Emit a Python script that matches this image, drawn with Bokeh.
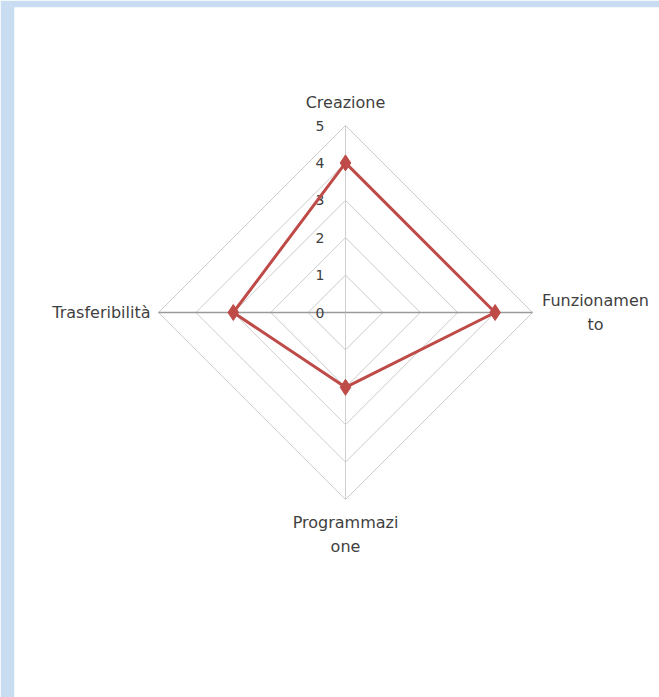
import numpy as np
from bokeh.plotting import figure
from bokeh.models import ColumnDataSource, Range1d
from bokeh.core.properties import value
from bokeh.embed import file_html
from bokeh.resources import INLINE

# ---- data ----
categories = ["Creazione", "Funzionamento", "Programmazione", "Trasferibilità"]
category_labels = ["Creazione", "Funzionamen\nto", "Programmazi\none", "Trasferibilità"]
series_values = [4, 4, 2, 3]
tick_values = [0, 1, 2, 3, 4, 5]
tick_labels = ["0", "1", "2", "3", "4", "5"]
max_value = 5

# angles: clockwise starting from top
n = len(categories)
angles = np.pi / 2 - 2 * np.pi * np.arange(n) / n

unit = 37.4  # px per value unit
W, H = 659, 697
bl, bt = 14, 7
cx, cy = 345, 312  # pixel center relative to figure origin

p = figure(width=W, height=H, output_backend="svg", toolbar_location=None,
           x_axis_location=None, y_axis_location=None,
           x_range=Range1d((bl - cx) / unit, (W - cx) / unit),
           y_range=Range1d((cy - H) / unit, (cy - bt) / unit),
           min_border_left=bl, min_border_right=0, min_border_top=bt, min_border_bottom=0)
p.xgrid.visible = False
p.ygrid.visible = False
p.outline_line_color = None
p.border_fill_color = "#c9ddf2"
p.background_fill_color = "white"

# grid polygons
for t in tick_values[1:]:
    xs = list(t * np.cos(angles)) + [t * np.cos(angles[0])]
    ys = list(t * np.sin(angles)) + [t * np.sin(angles[0])]
    p.line(xs, ys, line_color="#cccccc", line_width=1)

# spokes
for i, a in enumerate(angles):
    horiz = abs(np.sin(a)) < 1e-9
    p.line([0, max_value * np.cos(a)], [0, max_value * np.sin(a)],
           line_color="#9a9a9a" if horiz else "#cfcfcf", line_width=1.5 if horiz else 1)

# tick labels along the vertical (value) axis
p.text(x=[0] * len(tick_values), y=tick_values, text=tick_labels,
       text_align="right", text_baseline="middle", x_offset=-21,
       text_font=value("DejaVu Sans"), text_font_size="14px", text_color="#404040")

# series
vx = [v * np.cos(a) for v, a in zip(series_values, angles)]
vy = [v * np.sin(a) for v, a in zip(series_values, angles)]
p.line(vx + [vx[0]], vy + [vy[0]], line_color="#be4b48", line_width=3, line_join="round")
p.scatter(vx, vy, marker="diamond", size=16, fill_color="#be4b48", line_color="#be4b48")

# category labels
lx, ly, aligns, xo, yo = [], [], [], [], []
for a, lab in zip(angles, category_labels):
    c, s = np.cos(a), np.sin(a)
    lx.append(max_value * c)
    ly.append(max_value * s)
    if abs(s) < 1e-9:
        if "\n" in lab:
            aligns.append("center")
            xo.append(63 if c > 0 else -63)
        else:
            aligns.append("left" if c > 0 else "right")
            xo.append(8 if c > 0 else -8)
        yo.append(0)
    else:
        aligns.append("center")
        xo.append(0)
        yo.append(-23 if s > 0 else 35)
src = ColumnDataSource(dict(x=lx, y=ly, text=category_labels, align=aligns, xo=xo, yo=yo))
p.text(x="x", y="y", text="text", source=src, text_align="align", text_baseline="middle",
       x_offset="xo", y_offset="yo", text_line_height=1.3,
       text_font=value("DejaVu Sans"), text_font_size="16px", text_color="#3f3f3f")

open("out.html", "w").write(file_html(p, INLINE))
